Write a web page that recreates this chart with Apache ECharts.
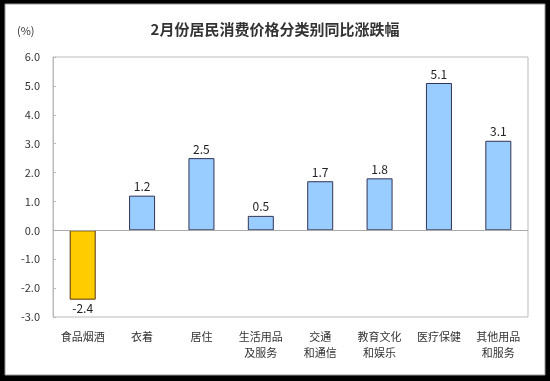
<!DOCTYPE html>
<html>
<head>
<meta charset="utf-8">
<script src="https://cdn.jsdelivr.net/npm/echarts@6/dist/echarts.min.js"></script>
<style>
html,body{margin:0;padding:0;background:#000;}
#c{width:550px;height:381px;}
</style>
</head>
<body>
<div id="c"></div>
<script>
const categories = ['食品烟酒','衣着','居住','生活用品\n及服务','交通\n和通信','教育文化\n和娱乐','医疗保健','其他用品\n和服务'];
const values = [-2.4, 1.2, 2.5, 0.5, 1.7, 1.8, 5.1, 3.1];
const yTicks = [-3, -2, -1, 0, 1, 2, 3, 4, 5, 6];

const chart = echarts.init(document.getElementById('c'), null, {renderer:'canvas'});
const font = '"Noto Sans CJK SC", "DejaVu Sans", sans-serif';
chart.setOption({
  backgroundColor: '#000',
  animation: false,
  graphic: [
    {type:'rect', shape:{x:5, y:4, width:540, height:371}, style:{fill:'#fff', stroke:'#999', lineWidth:1}, z:-10},
    {type:'text', left: 17, top: 25, style:{text:'(%)', fill:'#333', font:'11px ' + font}}
  ],
  title: {
    text: '2月份居民消费价格分类别同比涨跌幅',
    left: 'center',
    top: 17,
    textStyle: {fontSize: 15, fontWeight: 'bold', color: '#333', fontFamily: font}
  },
  grid: {left: 53, top: 57, right: 22, bottom: 64, show: true, borderColor: '#bbb', borderWidth: 1, backgroundColor: 'transparent'},
  xAxis: {
    type: 'category',
    data: categories,
    axisLine: {show: false},
    axisTick: {show: false},
    axisLabel: {color: '#333', fontSize: 11, fontFamily: font, margin: 12, interval: 0, lineHeight: 16}
  },
  yAxis: {
    type: 'value',
    min: yTicks[0],
    max: yTicks[yTicks.length - 1],
    interval: 1,
    axisLine: {show: true, lineStyle: {color: '#bbb'}},
    axisTick: {show: true, inside: true, length: 3, lineStyle: {color: '#bbb'}},
    splitLine: {show: false},
    axisLabel: {color: '#333', fontSize: 11, fontFamily: font, margin: 13, formatter: v => v.toFixed(1)}
  },
  series: [{
    type: 'bar',
    barWidth: 26,
    data: values.map(v => ({
      value: v,
      itemStyle: {color: v < 0 ? '#FFCC00' : '#99CCFF', borderColor: v < 0 ? '#553311' : '#333355', borderWidth: 1},
      label: {position: v < 0 ? 'bottom' : 'top'}
    })),
    label: {show: true, color: '#222', fontSize: 12, fontFamily: font, distance: 3, formatter: p => p.value.toFixed(1)},
    markLine: {
      silent: true,
      symbol: 'none',
      label: {show: false},
      lineStyle: {color: '#aaa', type: 'solid', width: 1},
      data: [{yAxis: 0}]
    }
  }]
});
</script>
</body>
</html>
